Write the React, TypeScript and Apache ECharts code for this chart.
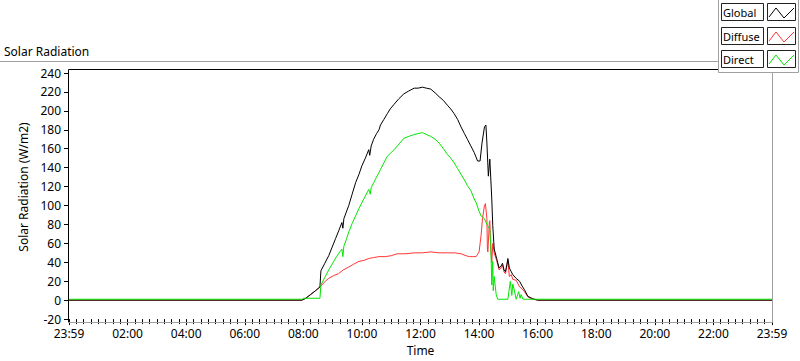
import React, { useEffect, useRef } from "react";
import * as echarts from "echarts";

// Time in minutes since 00:00, values in W/m2
const globalTimes = [0, 477, 485, 495, 505, 514, 516, 524, 532, 539, 546, 553, 559, 561, 563, 568, 573, 580, 587, 594, 600, 607, 614, 616, 619, 624, 630, 635, 638, 645, 652, 658, 666, 676, 686, 696, 707, 715, 724, 732, 741, 750, 758, 767, 775, 782, 789, 796, 803, 810, 816, 823, 830, 837, 842, 846, 851, 854, 856, 859, 862, 864, 866, 868, 871, 876, 881, 885, 888, 891, 894, 897, 899, 902, 906, 909, 916, 923, 928, 933, 940, 950, 960, 1440];
const globalValues = [0, 0, 2, 6, 10, 14, 31, 39, 47, 56, 65, 74, 82, 76, 86, 93, 100, 112, 124, 133, 142, 150, 159, 153, 163, 170, 176, 180, 185, 191, 197, 202, 207, 213, 218, 221, 224, 224, 225, 224, 223, 219, 215, 211, 206, 202, 197, 191, 183, 176, 170, 163, 156, 147, 147, 166, 183, 185, 166, 131, 149, 128, 107, 79, 54, 44, 34, 36, 39, 32, 30, 38, 44, 34, 30, 27, 23, 20, 15, 11, 4, 1.5, 0, 0];

const diffuseTimes = [0, 477, 485, 495, 505, 514, 518, 525, 532, 542, 552, 562, 573, 583, 594, 604, 614, 624, 635, 648, 660, 672, 690, 707, 724, 741, 758, 775, 790, 803, 813, 820, 827, 834, 840, 844, 847, 851, 853, 856, 857, 858, 861, 862, 864, 866, 868, 871, 876, 881, 885, 888, 891, 894, 899, 902, 906, 909, 916, 923, 928, 933, 940, 950, 960, 1440];
const diffuseValues = [0, 0, 2, 6, 10, 14, 16, 20, 23, 26, 28, 32, 35, 38, 41, 42, 44, 45, 46, 46, 47, 49, 49, 50, 50, 51, 50, 50, 50, 49, 47, 46, 46, 46, 51, 68, 86, 100, 102, 86, 54, 51, 82, 84, 54, 40, 60, 50, 42, 32, 34, 37, 30, 28, 42, 25, 27, 22, 21, 14, 12, 9, 3.5, 1, 0, 0];

const directTimes = [0, 478, 480, 514, 516, 524, 532, 540, 548, 556, 559, 561, 563, 568, 573, 580, 587, 594, 600, 607, 614, 617, 619, 624, 630, 635, 638, 645, 652, 658, 666, 676, 686, 696, 707, 715, 724, 732, 741, 750, 758, 767, 775, 782, 789, 796, 803, 810, 816, 823, 830, 834, 840, 844, 851, 857, 862, 864, 866, 868, 869, 871, 875, 878, 899, 901, 904, 907, 909, 912, 916, 921, 924, 926, 930, 960, 1440];
const directValues = [1, 1, 2, 2, 16, 24, 32, 39, 46, 52, 54, 46, 57, 64, 72, 81, 89, 97, 103, 110, 117, 112, 119, 124, 130, 135, 138, 145, 152, 155, 159, 165, 171, 173, 175, 176, 177, 175, 173, 170, 166, 160, 154, 150, 145, 139, 133, 127, 121, 116, 107, 103, 94, 89, 86, 79, 75, 58, 16, 41, 10, 25, 6, 1, 1, 9, 20, 5, 17, 11, 1, 9, 2, 6, 1, 1, 1];

const xTickLabels = ["23:59", "02:00", "04:00", "06:00", "08:00", "10:00", "12:00", "14:00", "16:00", "18:00", "20:00", "22:00", "23:59"];
const seriesNames = ["Global", "Diffuse", "Direct"];
const seriesColors = ["#000000", "#ff3535", "#00e600"];

const FONT = "Noto Sans";

function zip(t: number[], v: number[]) {
  return t.map((x, i) => [x, v[i]]);
}

export default function App() {
  const ref = useRef<HTMLDivElement>(null);
  useEffect(() => {
    if (!ref.current) return;
    const chart = echarts.init(ref.current, undefined, { renderer: "svg" });

    const legendRows = [3, 27, 50];
    const legendGraphics: any[] = [
      {
        type: "rect",
        shape: { x: 718.5, y: -1, width: 80, height: 73.5 },
        style: { fill: "#ffffff", stroke: "#a0a0a0", lineWidth: 1 },
        z: 100,
      },
    ];
    legendRows.forEach((t, i) => {
      legendGraphics.push({
        type: "rect",
        shape: { x: 721.5, y: t + 0.5, width: 42, height: 17 },
        style: { fill: "#ffffff", stroke: "#222", lineWidth: 1 },
        z: 101,
      });
      legendGraphics.push({
        type: "text",
        x: 723,
        y: t + 9,
        style: { text: seriesNames[i], fill: "#000", font: `11px '${FONT}'`, verticalAlign: "middle" },
        z: 102,
      });
      legendGraphics.push({
        type: "rect",
        shape: { x: 767.5, y: t + 0.5, width: 28, height: 17 },
        style: { fill: "#ffffff", stroke: "#222", lineWidth: 1 },
        z: 101,
      });
      legendGraphics.push({
        type: "polyline",
        shape: { points: [[769, t + 14], [776, t + 5], [784, t + 15], [794, t + 5]] },
        style: { stroke: seriesColors[i], lineWidth: 1, fill: "none" },
        z: 102,
      });
    });

    const option: any = {
      animation: false,
      textStyle: { fontFamily: FONT },
      grid: { left: 69, right: 28, top: 73, bottom: 40 },
      xAxis: {
        type: "value",
        min: 0,
        max: 1440,
        interval: 120,
        name: "Time",
        nameLocation: "middle",
        nameGap: 24,
        nameTextStyle: { color: "#000", fontSize: 12, fontFamily: FONT },
        axisLine: { show: false, onZero: false },
        axisTick: { show: true, length: 6, lineStyle: { color: "#000" } },
        minorTick: { show: true, splitNumber: 8, length: 5, lineStyle: { color: "#000" } },
        splitLine: { show: false },
        axisLabel: {
          color: "#000",
          fontSize: 12,
          margin: 8,
          showMinLabel: true,
          showMaxLabel: true,
          formatter: (v: number) => xTickLabels[Math.round(v / 120)] ?? "",
        },
      },
      yAxis: {
        type: "value",
        min: -20,
        max: 240,
        interval: 20,
        name: "Solar Radiation (W/m2)",
        nameLocation: "middle",
        nameGap: 30,
        nameRotate: 90,
        nameTextStyle: { color: "#000", fontSize: 12, fontFamily: FONT, padding: [0, 0, 0, 18] },
        axisLine: { show: false, onZero: false },
        axisTick: { show: true, length: 5, lineStyle: { color: "#000" } },
        splitLine: { show: false },
        axisLabel: { color: "#000", fontSize: 12, margin: 8 },
      },
      series: [
        {
          name: "Diffuse",
          type: "line",
          data: zip(diffuseTimes, diffuseValues),
          showSymbol: false,
          lineStyle: { color: seriesColors[1], width: 1 },
          itemStyle: { color: seriesColors[1] },
          z: 2,
        },
        {
          name: "Global",
          type: "line",
          data: zip(globalTimes, globalValues),
          showSymbol: false,
          lineStyle: { color: seriesColors[0], width: 1 },
          itemStyle: { color: seriesColors[0] },
          z: 3,
        },
        {
          name: "Direct",
          type: "line",
          data: zip(directTimes, directValues),
          showSymbol: false,
          lineStyle: { color: seriesColors[2], width: 1 },
          itemStyle: { color: seriesColors[2] },
          z: 4,
        },
      ],
      graphic: [
        {
          type: "line",
          shape: { x1: 0, y1: 61.5, x2: 718, y2: 61.5 },
          style: { stroke: "#a0a0a0", lineWidth: 1 },
          z: 50,
        },
        {
          type: "text",
          x: 4,
          y: 51,
          style: { text: "Solar Radiation", fill: "#000", font: `12px '${FONT}'`, verticalAlign: "middle" },
          z: 50,
        },
        {
          type: "line",
          shape: { x1: 68.5, y1: 69.5, x2: 772.5, y2: 69.5 },
          style: { stroke: "#000", lineWidth: 1 },
          z: 50,
        },
        {
          type: "line",
          shape: { x1: 68.5, y1: 69.5, x2: 68.5, y2: 322.5 },
          style: { stroke: "#000", lineWidth: 1 },
          z: 50,
        },
        {
          type: "line",
          shape: { x1: 68.5, y1: 322.5, x2: 772.5, y2: 322.5 },
          style: { stroke: "#a0a0a0", lineWidth: 1 },
          z: 50,
        },
        {
          type: "line",
          shape: { x1: 772.5, y1: 69.5, x2: 772.5, y2: 322.5 },
          style: { stroke: "#a0a0a0", lineWidth: 1 },
          z: 50,
        },
        ...legendGraphics,
      ],
    };
    chart.setOption(option);
    return () => chart.dispose();
  }, []);

  return (
    <div
      ref={ref}
      style={{ position: "fixed", left: 0, top: 0, width: 800, height: 361, background: "#fff" }}
    />
  );
}
